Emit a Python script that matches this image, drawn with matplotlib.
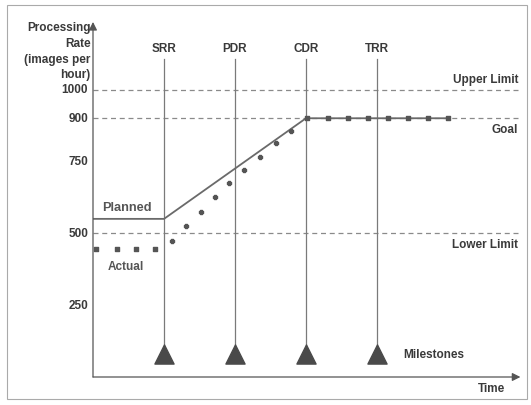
import matplotlib.pyplot as plt
from matplotlib.patches import Rectangle

# milestones on the time axis
milestones = ['SRR', 'PDR', 'CDR', 'TRR']
milestone_x = [1, 2, 3, 4]
milestone_y = 80

# planned processing rate
planned_x = [0, 1, 3, 5]
planned_y = [550, 550, 900, 900]

# actual rate, early squares then diamonds up the ramp, then squares on the goal line
actual_sq_x = [0.04, 0.34, 0.61, 0.87]
actual_sq_y = [445, 445, 445, 445]
actual_dm_x = [1.11, 1.31, 1.52, 1.72, 1.92, 2.13, 2.35, 2.58, 2.79]
actual_dm_y = [473, 525, 574, 626, 675, 720, 765, 814, 856]
goal_sq_x = [3.01, 3.31, 3.59, 3.87, 4.15, 4.44, 4.72, 5.0]
goal_sq_y = [900] * 8

limits = {'Upper Limit': 1000, 'Goal': 900, 'Lower Limit': 500}
ytick_vals = [1000, 900, 750, 500, 250]

TXT = '#3a3a3a'
FONT = dict(family='Liberation Sans', weight='bold', color=TXT, fontsize=8.5)

fig = plt.figure(figsize=(5.31, 4.06), dpi=100)
fig.patch.set_facecolor('white')
fig.patches.append(Rectangle((7 / 531, 6 / 406), 520 / 531, 394 / 406, transform=fig.transFigure,
                             fill=False, edgecolor='#aaaaaa', linewidth=0.8))

ax = fig.add_axes([93 / 531, 28 / 406, 6.1 * 71 / 531, 1240 * 0.2875 / 406])
ax.set_xlim(0, 6.1)
ax.set_ylim(0, 1240)
ax.axis('off')

# axes with arrow heads
ax.annotate('', xy=(6.02, 0), xytext=(0, 0), annotation_clip=False,
            arrowprops=dict(arrowstyle='-|>', color='#555555', lw=0.9, mutation_scale=12, shrinkA=0, shrinkB=0))
ax.annotate('', xy=(0, 1235), xytext=(0, 0), annotation_clip=False,
            arrowprops=dict(arrowstyle='-|>', color='#555555', lw=0.9, mutation_scale=12, shrinkA=0, shrinkB=0))

# limit lines
for name, val in limits.items():
    ax.plot([0, 5.99], [val, val], ls=(0, (4, 3)), color='#8a8a8a', lw=0.9)
ax.text(5.99, 1000 + 15, 'Upper Limit', ha='right', va='bottom', **FONT)
ax.text(5.99, 900 - 15, 'Goal', ha='right', va='top', **FONT)
ax.text(5.99, 500 - 15, 'Lower Limit', ha='right', va='top', **FONT)

# milestone verticals and triangles
for name, x in zip(milestones, milestone_x):
    ax.plot([x, x], [milestone_y, 1105], color='#7a7a7a', lw=0.9)
    ax.text(x, 1125, name, ha='center', va='bottom', **FONT)
ax.scatter(milestone_x, [milestone_y] * 4, marker='^', s=190, color='#4a4a4a', zorder=3)
ax.text(4.37, milestone_y, 'Milestones', ha='left', va='center', **FONT)
ax.text(5.42, -18, 'Time', ha='left', va='top', **FONT)

# planned and actual
ax.plot(planned_x, planned_y, color='#6a6a6a', lw=1.3)
ax.scatter(actual_sq_x, actual_sq_y, marker='s', s=6, color='#555555', zorder=3)
ax.scatter(actual_dm_x, actual_dm_y, marker='P', s=12, color='#555555', zorder=3)
ax.scatter(goal_sq_x, goal_sq_y, marker='s', s=8, color='#555555', zorder=3)
ax.text(0.13, 590, 'Planned', ha='left', va='center', **dict(FONT, fontsize=9.2, color='#555555'))
ax.text(0.21, 385, 'Actual', ha='left', va='center', **dict(FONT, color='#555555'))

# y tick labels and title
for v in ytick_vals:
    ax.text(-0.07, v, str(v), ha='right', va='center', **FONT)
ax.text(-0.03, 1237, 'Processing\nRate\n(images per\nhour)', ha='right', va='top',
        linespacing=1.4, **FONT)

fig.savefig('out.png', dpi=100)
